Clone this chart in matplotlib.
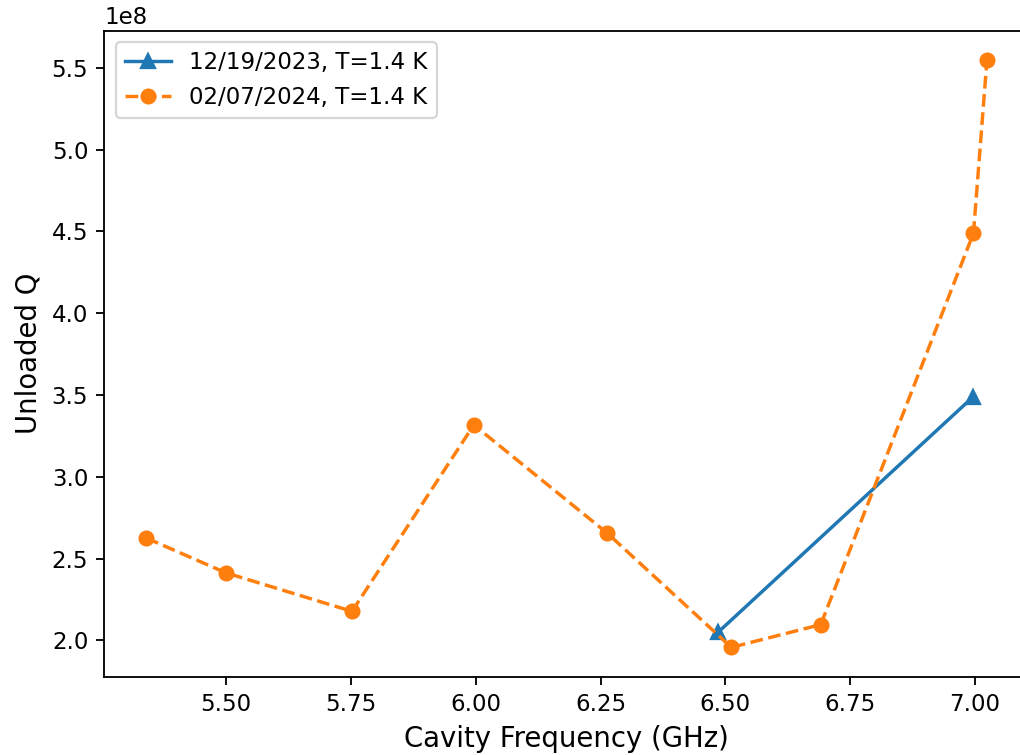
import matplotlib
matplotlib.use("Agg")
import matplotlib.pyplot as plt
import numpy as np

# Unloaded Q versus cavity frequency for two cooldowns at 1.4 K
freq_dec2023 = [6.486, 6.996]
q_dec2023 = [2.051e8, 3.488e8]

freq_feb2024 = [5.340, 5.499, 5.752, 5.996, 6.263, 6.512, 6.691, 6.997, 7.024]
q_feb2024 = [2.625e8, 2.413e8, 2.177e8, 3.317e8, 2.656e8, 1.957e8, 2.096e8, 4.489e8, 5.547e8]

label_dec2023 = "12/19/2023, T=1.4 K"
label_feb2024 = "02/07/2024, T=1.4 K"

DPI = 165
fig = plt.figure(figsize=(1020 / DPI, 755 / DPI), dpi=DPI)
ax = fig.add_axes([0.1023, 0.1037, 0.9065, 0.8555])

ax.plot(freq_dec2023, q_dec2023, "-^", color="#1f77b4", label=label_dec2023)
ax.plot(freq_feb2024, q_feb2024, "--o", color="#ff7f0e", label=label_feb2024)

ax.set_xticks([5.50, 5.75, 6.00, 6.25, 6.50, 6.75, 7.00])
ax.set_xticklabels(["5.50", "5.75", "6.00", "6.25", "6.50", "6.75", "7.00"])
ax.set_xlabel("Cavity Frequency (GHz)", fontsize=12)
ax.set_ylabel("Unloaded Q", fontsize=12)
ax.legend(loc="upper left")

fig.savefig("out.png", dpi=DPI)
